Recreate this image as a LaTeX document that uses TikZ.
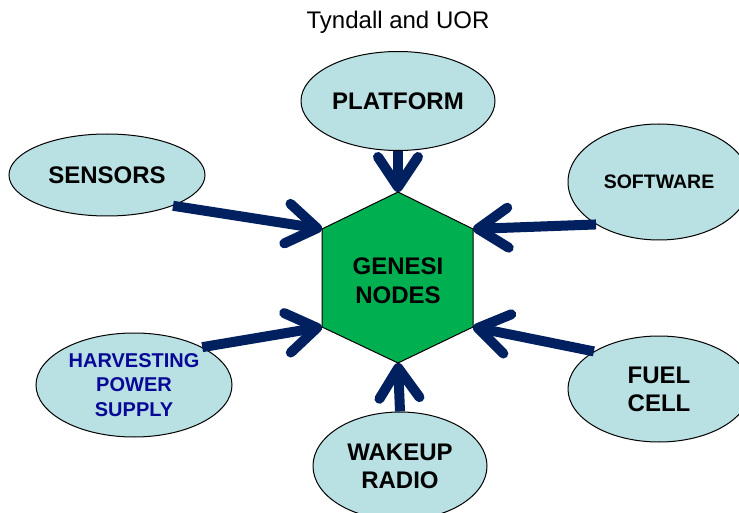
\documentclass[tikz,border=0pt]{standalone}
\usepackage{fontspec}
\setmainfont{Liberation Sans}
\usetikzlibrary{shapes.geometric,arrows.meta}
\definecolor{bubble}{RGB}{185,224,227}
\definecolor{nodegreen}{RGB}{0,176,80}
\definecolor{navy}{RGB}{0,32,96}
\definecolor{harvestblue}{RGB}{8,8,150}
\tikzset{
  bubble/.style={ellipse, draw=black, line width=1pt, fill=bubble, inner sep=0pt,
    align=center, font=\bfseries\fontsize{24}{28}\selectfont},
  feed/.style={draw=navy, line width=10pt,
    -{Straight Barb[length=30pt, width=40pt, round]}},
}
\begin{document}
\begin{tikzpicture}[x=1pt,y=-1pt]
\useasboundingbox (0,0) rectangle (739,513);

% title
\node[font=\fontsize{24}{28}\selectfont] (title) at (398,22) {Tyndall and UOR};

% central hexagon
\coordinate (hexT)  at (398,192);
\coordinate (hexUR) at (473,229);
\coordinate (hexLR) at (473,327);
\coordinate (hexB)  at (398,363);
\coordinate (hexLL) at (322,327);
\coordinate (hexUL) at (322,229);

% surrounding blocks
\node[bubble, minimum width=194pt, minimum height=99pt] (platform) at (398,101) {PLATFORM};
\node[bubble, minimum width=196pt, minimum height=82pt] (sensors) at (107,175) {SENSORS};
\node[bubble, minimum width=182pt, minimum height=116pt, font=\bfseries\fontsize{19.5}{23}\selectfont] (software) at (659,182) {SOFTWARE};
\node[bubble, minimum width=196pt, minimum height=104pt, text=harvestblue, font=\bfseries\fontsize{20}{24.5}\selectfont] (harvest) at (134,385) {HARVESTING\\POWER\\SUPPLY};
\node[bubble, minimum width=182pt, minimum height=106pt] (fuel) at (659,389) {FUEL\\CELL};
\node[bubble, minimum width=174pt, minimum height=108pt] (wakeup) at (400,466) {WAKEUP\\RADIO};

% connectors into the hexagon corners
\draw[feed] (sensors.-25) -- (hexUL);
\draw[feed] (platform.south) -- (hexT);
\draw[feed] (software.-146) -- (hexUR);
\draw[feed] (harvest.29) -- (hexLL);
\draw[feed] (fuel.150) -- (hexLR);
\draw[feed] (wakeup.north) -- (hexB);

% hexagon on top
\draw[fill=nodegreen, line width=1pt, line join=miter]
  (hexT) -- (hexUR) -- (hexLR) -- (hexB) -- (hexLL) -- (hexUL) -- cycle;
\node[align=center, font=\bfseries\fontsize{24}{29}\selectfont] (hex) at (398,281) {GENESI\\NODES};
\end{tikzpicture}
\end{document}
